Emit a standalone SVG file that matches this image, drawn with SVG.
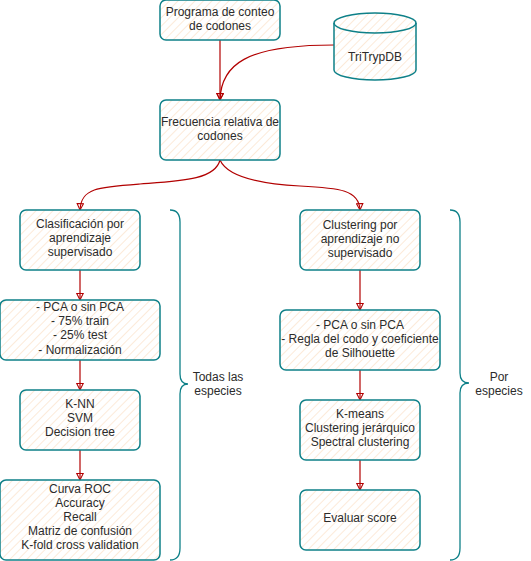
<svg xmlns="http://www.w3.org/2000/svg" width="531" height="561" viewBox="0 0 531 561">
<defs>
<pattern id="hatch" patternUnits="userSpaceOnUse" width="6" height="6" patternTransform="rotate(45)">
<rect width="6" height="6" fill="#ffffff"/>
<line x1="0" y1="0" x2="0" y2="6" stroke="#fbdcc0" stroke-width="1.2"/>
</pattern>
<marker id="arr" viewBox="0 0 10 10" refX="9" refY="5" markerWidth="8" markerHeight="8" orient="auto" markerUnits="userSpaceOnUse">
<path d="M1,1 L9,5 L1,9 Z" fill="none" stroke="#b20000" stroke-width="1.3"/>
</marker>
</defs>
<style>
.box{fill:url(#hatch);stroke:#0e8088;stroke-width:1.5}
.t{font-family:"Liberation Sans",Arial,sans-serif;font-size:12px;fill:#2b2b2b;text-anchor:middle}
.c{fill:none;stroke:#b20000;stroke-width:1.2;marker-end:url(#arr)}
.br{fill:none;stroke:#0e8088;stroke-width:1.3}
</style>
<rect width="531" height="561" fill="#ffffff"/>
<g id="connectors">
<path class="c" d="M220,40 L220,100"/>
<path class="c" d="M334,45 C245,45 221,65 220,100"/>
<path class="c" d="M220,160 C215,180 180,181 140,184 C98,187 81,188 80,210"/>
<path class="c" d="M220,160 C228,178 262,184 300,186 C340,188 359,190 360,210"/>
<path class="c" d="M80,270 L80,300"/>
<path class="c" d="M80,360 L80,390"/>
<path class="c" d="M80,450 L80,480"/>
<path class="c" d="M360,270 L360,310"/>
<path class="c" d="M360,370 L360,400"/>
<path class="c" d="M360,460 L360,490"/>
</g>
<g id="n-programa">
<rect class="box" x="160" y="0" width="120" height="40" rx="6"/>
<text class="t" x="220" y="16">Programa de conteo</text>
<text class="t" x="220" y="30">de codones</text>
</g>
<g id="n-tritrypdb">
<path class="box" d="M334,23 A41,10 0 0 1 416,23 L416,70 A41,10 0 0 1 334,70 Z"/>
<path fill="none" stroke="#0e8088" stroke-width="1.5" d="M334,23 A41,10 0 0 0 416,23"/>
<text class="t" x="375" y="61">TriTrypDB</text>
</g>
<g id="n-frecuencia">
<rect class="box" x="160" y="100" width="120" height="60" rx="6"/>
<text class="t" x="220" y="126">Frecuencia relativa de</text>
<text class="t" x="220" y="140">codones</text>
</g>
<g id="n-clasificacion">
<rect class="box" x="20" y="210" width="120" height="60" rx="6"/>
<text class="t" x="80" y="228">Clasificación por</text>
<text class="t" x="80" y="242">aprendizaje</text>
<text class="t" x="80" y="256">supervisado</text>
</g>
<g id="n-pca-left">
<rect class="box" x="0" y="300" width="160" height="60" rx="6"/>
<text class="t" x="80" y="311">- PCA o sin PCA</text>
<text class="t" x="80" y="325">- 75% train</text>
<text class="t" x="80" y="339">- 25% test</text>
<text class="t" x="80" y="354">- Normalización</text>
</g>
<g id="n-knn">
<rect class="box" x="20" y="390" width="120" height="60" rx="6"/>
<text class="t" x="80" y="408">K-NN</text>
<text class="t" x="80" y="422">SVM</text>
<text class="t" x="80" y="436">Decision tree</text>
</g>
<g id="n-curva">
<rect class="box" x="0" y="480" width="160" height="80" rx="6"/>
<text class="t" x="80" y="493">Curva ROC</text>
<text class="t" x="80" y="507">Accuracy</text>
<text class="t" x="80" y="521">Recall</text>
<text class="t" x="80" y="535">Matriz de confusión</text>
<text class="t" x="80" y="549">K-fold cross validation</text>
</g>
<g id="n-clustering">
<rect class="box" x="300" y="210" width="120" height="60" rx="6"/>
<text class="t" x="360" y="229">Clustering por</text>
<text class="t" x="360" y="243">aprendizaje no</text>
<text class="t" x="360" y="257">supervisado</text>
</g>
<g id="n-pca-right">
<rect class="box" x="280" y="310" width="160" height="60" rx="6"/>
<text class="t" x="360" y="329">- PCA o sin PCA</text>
<text class="t" x="360" y="343">- Regla del codo y coeficiente</text>
<text class="t" x="360" y="357">de Silhouette</text>
</g>
<g id="n-kmeans">
<rect class="box" x="300" y="400" width="120" height="60" rx="6"/>
<text class="t" x="360" y="418">K-means</text>
<text class="t" x="360" y="432">Clustering jerárquico</text>
<text class="t" x="360" y="446">Spectral clustering</text>
</g>
<g id="n-evaluar">
<rect class="box" x="300" y="490" width="120" height="60" rx="6"/>
<text class="t" x="360" y="522">Evaluar score</text>
</g>
<g id="n-brace-left">
<path class="br" d="M170,210 Q180,210 180,222 L180,374 Q180,384 188,384 Q180,384 180,394 L180,548 Q180,560 170,560"/>
<text class="t" x="218" y="381">Todas las</text>
<text class="t" x="218" y="395">especies</text>
</g>
<g id="n-brace-right">
<path class="br" d="M450,210 Q460,210 460,222 L460,373 Q460,383 469,383 Q460,383 460,393 L460,548 Q460,560 450,560"/>
<text class="t" x="499" y="381">Por</text>
<text class="t" x="499" y="395">especies</text>
</g>
</svg>
